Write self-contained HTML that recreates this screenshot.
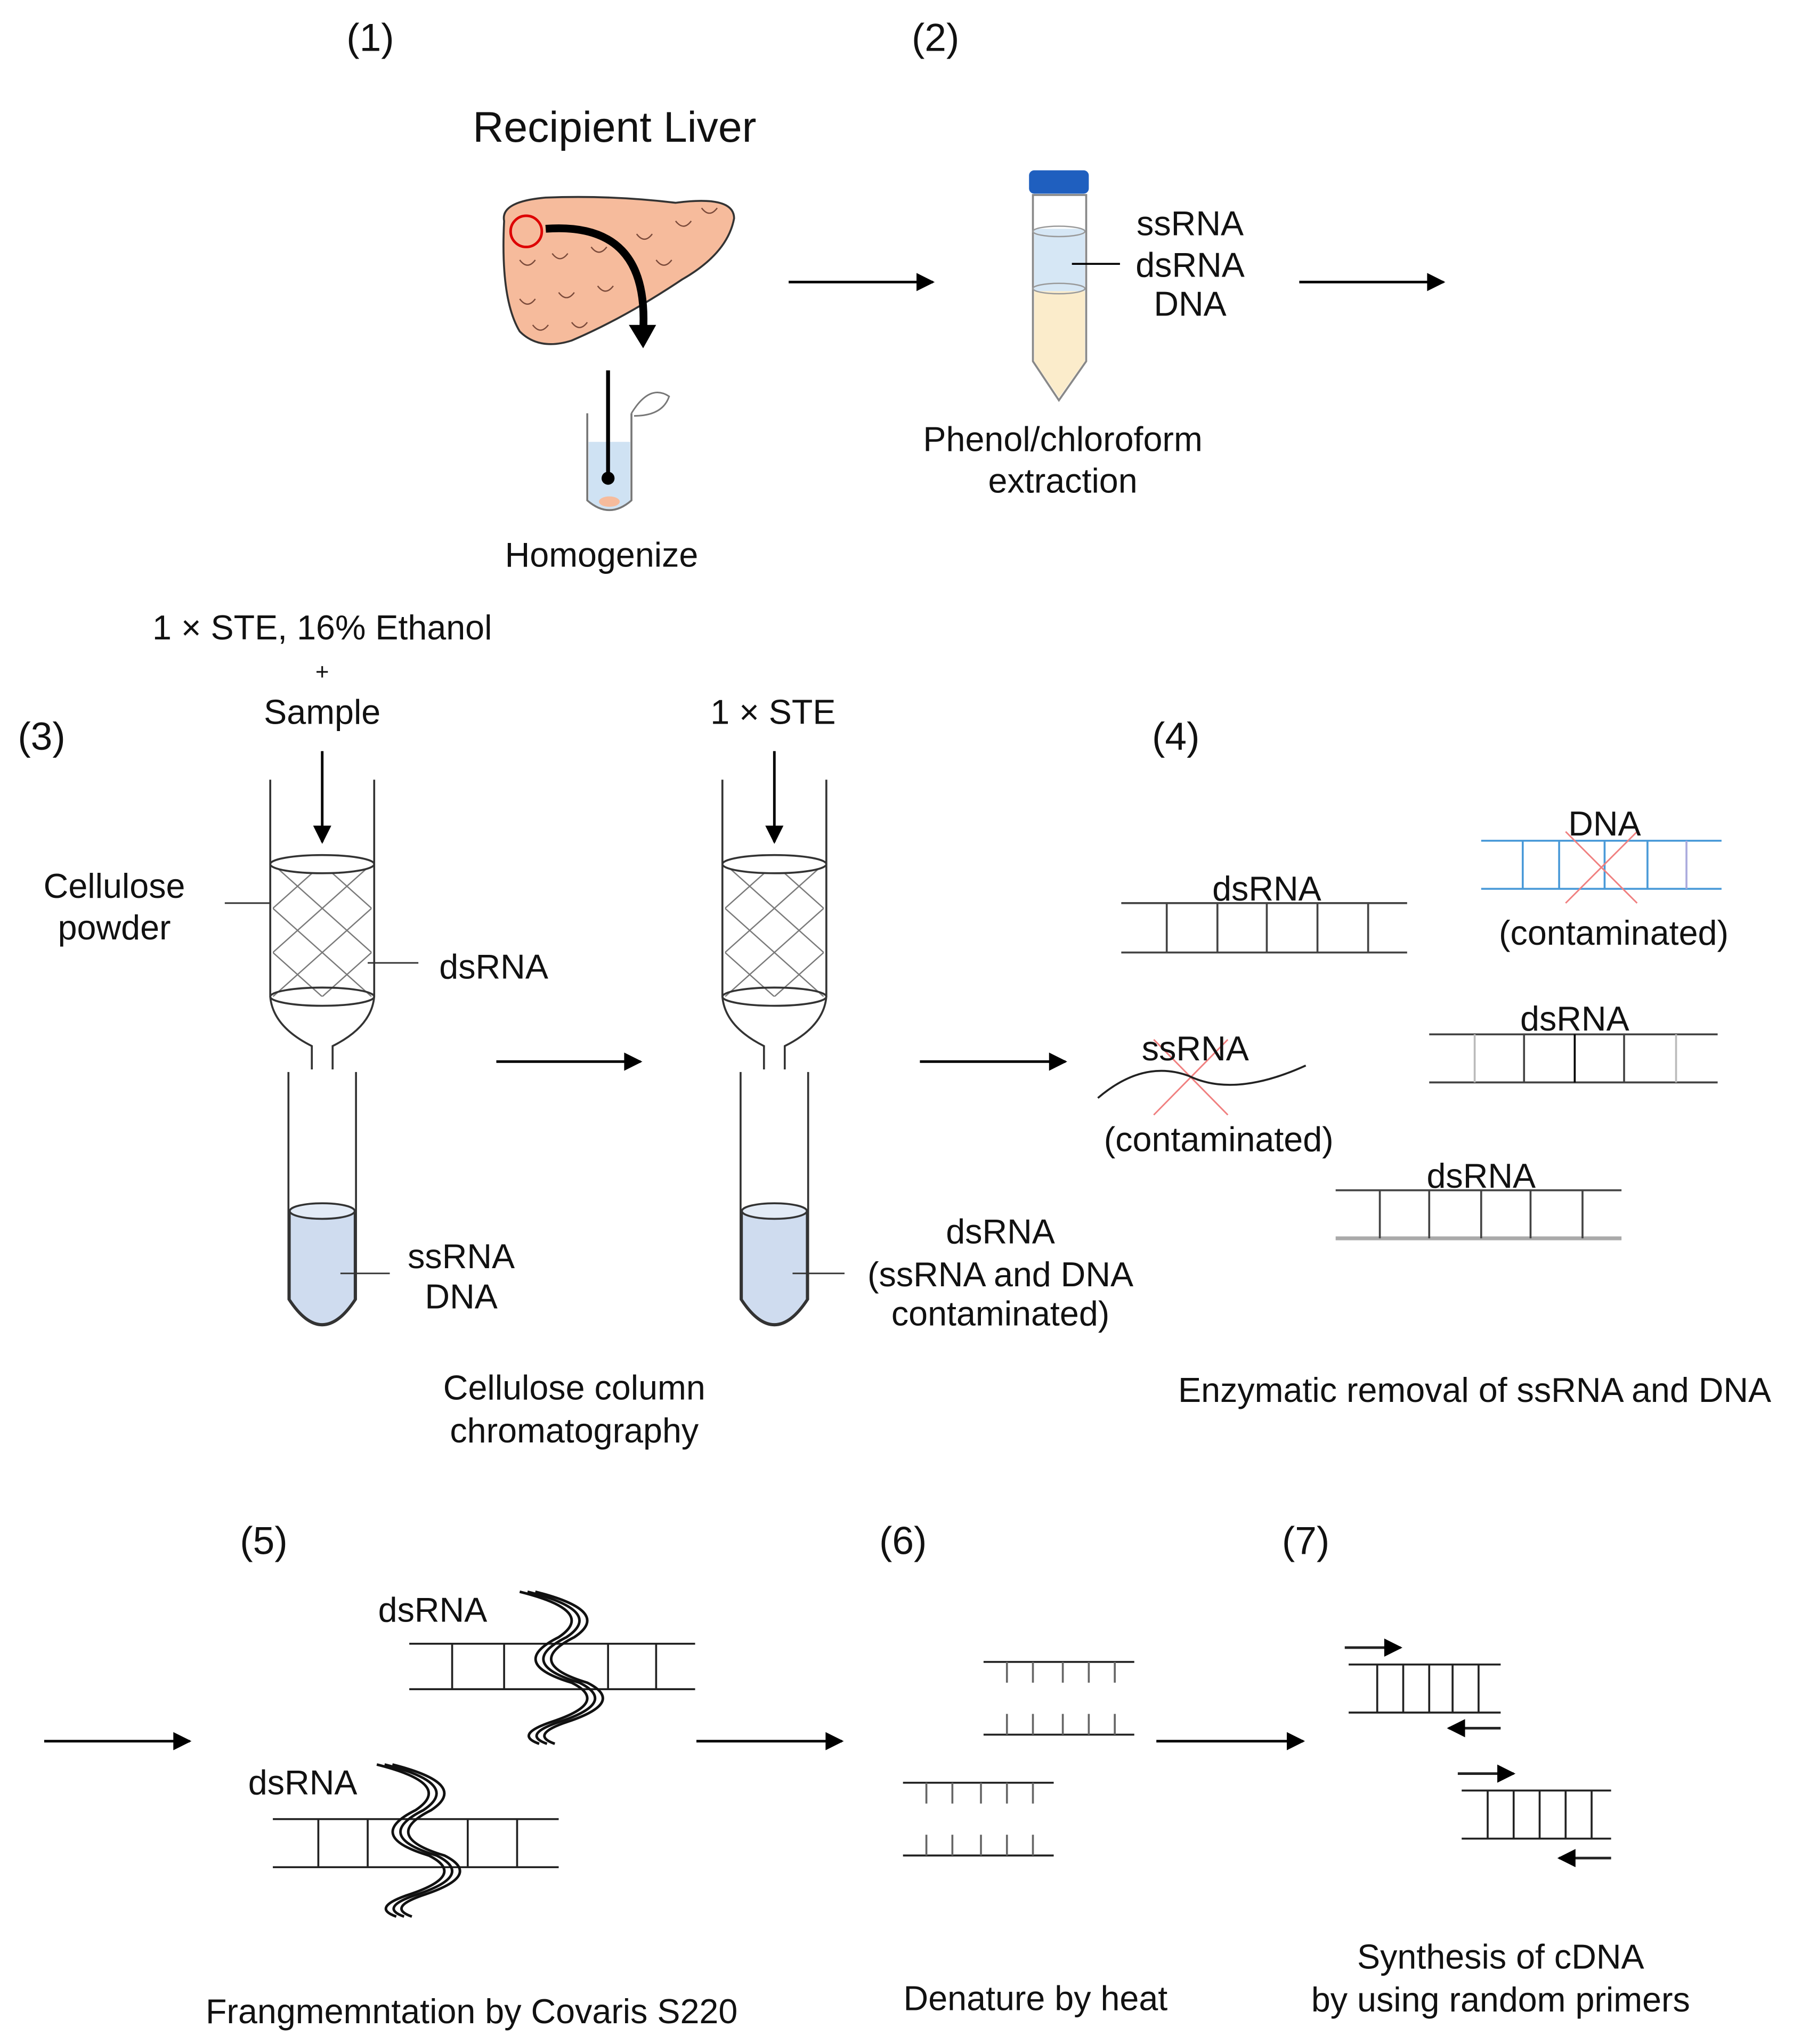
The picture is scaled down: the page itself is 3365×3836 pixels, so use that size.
<!DOCTYPE html>
<html><head><meta charset="utf-8"><style>html,body{margin:0;padding:0;background:#fff}svg{display:block}text{font-family:"Liberation Sans",sans-serif;font-size:26.5px;fill:#111;text-anchor:middle}</style></head><body>
<svg width="3365" height="3836" viewBox="0 0 1380 1573" xmlns="http://www.w3.org/2000/svg">
<defs>
<marker id="a2" viewBox="0 0 10 10" markerWidth="16" markerHeight="14" refX="9" refY="5" orient="auto" markerUnits="userSpaceOnUse"><path d="M0,0 L10,5 L0,10 z" fill="#000"/></marker>
<pattern id="hatch" x="210" y="665" width="38" height="34" patternUnits="userSpaceOnUse"><path d="M0,0 L38,34 M38,0 L0,34" stroke="#777" stroke-width="1"/></pattern>
</defs>
<g stroke="#000" stroke-width="2" fill="none">
<line x1="607" y1="217" x2="718" y2="217" marker-end="url(#a2)"/>
<line x1="1000" y1="217" x2="1111" y2="217" marker-end="url(#a2)"/>
<line x1="382" y1="817" x2="493" y2="817" marker-end="url(#a2)"/>
<line x1="708" y1="817" x2="820" y2="817" marker-end="url(#a2)"/>
<line x1="34" y1="1340" x2="146" y2="1340" marker-end="url(#a2)"/>
<line x1="536" y1="1340" x2="648" y2="1340" marker-end="url(#a2)"/>
<line x1="890" y1="1340" x2="1003" y2="1340" marker-end="url(#a2)"/>
</g>
<text x="285" y="39" style="font-size:30px">(1)</text>
<text x="720" y="39" style="font-size:30px">(2)</text>
<text x="473" y="109" style="font-size:33px">Recipient Liver</text>
<path d="M388,170 Q385,155 420,152 Q470,150 520,156 Q565,150 565,168 Q560,195 525,215 Q480,245 440,262 Q415,270 400,255 Q385,230 388,170 z" fill="#f6bb9c" stroke="#333" stroke-width="1.5"/>
<g stroke="#7a4a3a" stroke-width="1" fill="none">
<path d="M400,200 q6,8 12,0 M425,195 q6,8 12,0 M455,190 q6,8 12,0 M490,180 q6,8 12,0 M520,170 q6,8 12,0 M400,230 q6,8 12,0 M430,225 q6,8 12,0 M460,220 q6,8 12,0 M410,250 q6,8 12,0 M440,248 q6,8 12,0 M540,160 q6,8 12,0 M505,200 q6,8 12,0"/>
</g>
<circle cx="405" cy="178" r="12" fill="none" stroke="#d00" stroke-width="2"/>
<path d="M420,176 Q500,170 495,255" stroke="#000" stroke-width="6" fill="none"/>
<path d="M484,250 L495,268 L505,250 z" fill="#000"/>
<path d="M452,318 L452,385 Q469,400 486,385 L486,318" fill="none" stroke="#777" stroke-width="1.5"/>
<path d="M453,340 L453,385 Q469,398 485,385 L485,340 z" fill="#cfe2f3"/>
<path d="M486,318 Q500,295 515,305 Q510,320 488,320" fill="none" stroke="#777" stroke-width="1.2"/>
<line x1="468" y1="285" x2="468" y2="368" stroke="#000" stroke-width="3"/>
<circle cx="468" cy="368" r="5" fill="#000"/>
<ellipse cx="469" cy="386" rx="8" ry="4" fill="#f6bb9c"/>
<text x="463" y="436">Homogenize</text>
<path d="M795,150 L795,278 L815,308 L836,278 L836,150 z" fill="#fff" stroke="#888" stroke-width="1.5"/>
<path d="M796,224 L796,278 L815,306 L835,278 L835,224 z" fill="#fbeccb"/>
<rect x="796" y="176" width="39" height="48" fill="#d6e7f5"/>
<ellipse cx="815" cy="178" rx="20" ry="4" fill="none" stroke="#999"/>
<ellipse cx="815" cy="222" rx="20" ry="4" fill="none" stroke="#999"/>
<rect x="792" y="131" width="46" height="18" rx="4" fill="#1f5fbf"/>
<line x1="825" y1="203" x2="862" y2="203" stroke="#000" stroke-width="1.5"/>
<text x="916" y="181">ssRNA</text><text x="916" y="213">dsRNA</text><text x="916" y="243">DNA</text>
<text x="818" y="347">Phenol/chloroform</text><text x="818" y="379">extraction</text>
<text x="248" y="492">1 × STE, 16% Ethanol</text><text x="248" y="523" style="font-size:18px">+</text><text x="248" y="557">Sample</text>
<text x="32" y="577" style="font-size:30px">(3)</text>
<text x="595" y="557">1 × STE</text>
<text x="905" y="577" style="font-size:30px">(4)</text>
<g id="col" stroke="#333" stroke-width="1.5" fill="none">
<line x1="208" y1="600" x2="208" y2="767"/><line x1="288" y1="600" x2="288" y2="767"/>
<rect x="210" y="665" width="76" height="102" fill="url(#hatch)" stroke="none"/>
<ellipse cx="248" cy="665" rx="40" ry="7" fill="#fff"/><ellipse cx="248" cy="767" rx="40" ry="7"/>
<path d="M208,767 Q210,790 240,805 L240,823 M288,767 Q286,790 256,805 L256,823"/>
<path d="M222,825 L222,1000 Q248,1040 274,1000 L274,825"/>
<path d="M223,932 L223,1000 Q248,1038 273,1000 L273,932 z" fill="#cfdcef"/>
<ellipse cx="248" cy="932" rx="25" ry="6" fill="#e3ebf6"/>
</g>
<use href="#col" transform="translate(348,0)"/>
<g stroke="#000" stroke-width="2"><line x1="248" y1="578" x2="248" y2="648" marker-end="url(#a2)"/><line x1="596" y1="578" x2="596" y2="648" marker-end="url(#a2)"/></g>
<g stroke="#333" stroke-width="1.2"><line x1="173" y1="695" x2="208" y2="695"/><line x1="283" y1="741" x2="322" y2="741"/><line x1="262" y1="980" x2="300" y2="980"/><line x1="610" y1="980" x2="650" y2="980"/></g>
<text x="88" y="691">Cellulose</text><text x="88" y="723">powder</text>
<text x="380" y="753">dsRNA</text>
<text x="355" y="976">ssRNA</text><text x="355" y="1007">DNA</text>
<text x="770" y="957">dsRNA</text><text x="770" y="990">(ssRNA and DNA</text><text x="770" y="1020">contaminated)</text>
<text x="442" y="1077">Cellulose column</text><text x="442" y="1110">chromatography</text>
<g stroke="#444" stroke-width="1.5">
<line x1="863" y1="695" x2="1083" y2="695"/><line x1="863" y1="733" x2="1083" y2="733"/>
<line x1="898" y1="695" x2="898" y2="733"/><line x1="937" y1="695" x2="937" y2="733"/><line x1="975" y1="695" x2="975" y2="733"/><line x1="1014" y1="695" x2="1014" y2="733"/><line x1="1053" y1="695" x2="1053" y2="733"/>
<line x1="1100" y1="796" x2="1322" y2="796"/><line x1="1100" y1="833" x2="1322" y2="833"/>
<line x1="1135" y1="796" x2="1135" y2="833" stroke="#bbb"/><line x1="1173" y1="796" x2="1173" y2="833"/><line x1="1212" y1="796" x2="1212" y2="833" stroke="#000"/><line x1="1250" y1="796" x2="1250" y2="833"/><line x1="1290" y1="796" x2="1290" y2="833" stroke="#bbb"/>
<line x1="1028" y1="916" x2="1248" y2="916"/><line x1="1028" y1="953" x2="1248" y2="953" stroke="#aaa" stroke-width="3"/>
<line x1="1062" y1="916" x2="1062" y2="953"/><line x1="1100" y1="916" x2="1100" y2="953"/><line x1="1140" y1="916" x2="1140" y2="953"/><line x1="1178" y1="916" x2="1178" y2="953"/><line x1="1218" y1="916" x2="1218" y2="953"/>
</g>
<g stroke="#4a9ad8" stroke-width="1.5">
<line x1="1140" y1="647" x2="1325" y2="647"/><line x1="1140" y1="684" x2="1325" y2="684"/>
<line x1="1172" y1="647" x2="1172" y2="684"/><line x1="1200" y1="647" x2="1200" y2="684"/><line x1="1235" y1="647" x2="1235" y2="684"/><line x1="1268" y1="647" x2="1268" y2="684"/><line x1="1298" y1="647" x2="1298" y2="684" stroke="#aad"/>
</g>
<g stroke="#f08080" stroke-width="1.2"><line x1="1205" y1="640" x2="1260" y2="695"/><line x1="1260" y1="640" x2="1205" y2="695"/>
<line x1="888" y1="800" x2="945" y2="858"/><line x1="945" y1="800" x2="888" y2="858"/></g>
<path d="M845,845 Q880,815 915,828 Q950,845 1005,820" fill="none" stroke="#222" stroke-width="1.5"/>
<text x="975" y="693">dsRNA</text><text x="1235" y="643">DNA</text><text x="1242" y="727">(contaminated)</text>
<text x="920" y="816">ssRNA</text><text x="938" y="886">(contaminated)</text>
<text x="1212" y="793">dsRNA</text><text x="1140" y="914">dsRNA</text>
<text x="1135" y="1079">Enzymatic removal of ssRNA and DNA</text>
<text x="203" y="1196" style="font-size:30px">(5)</text><text x="695" y="1196" style="font-size:30px">(6)</text><text x="1005" y="1196" style="font-size:30px">(7)</text>
<g stroke="#222" stroke-width="1.5">
<line x1="315" y1="1265" x2="535" y2="1265"/><line x1="315" y1="1300" x2="535" y2="1300"/>
<line x1="348" y1="1265" x2="348" y2="1300"/><line x1="388" y1="1265" x2="388" y2="1300"/><line x1="468" y1="1265" x2="468" y2="1300"/><line x1="505" y1="1265" x2="505" y2="1300"/>
<line x1="210" y1="1400" x2="430" y2="1400"/><line x1="210" y1="1437" x2="430" y2="1437"/>
<line x1="245" y1="1400" x2="245" y2="1437"/><line x1="283" y1="1400" x2="283" y2="1437"/><line x1="360" y1="1400" x2="360" y2="1437"/><line x1="398" y1="1400" x2="398" y2="1437"/>
</g>
<g fill="none" stroke="#111" stroke-width="2">
<path id="wv" d="M400,1225 Q460,1240 430,1260 Q390,1280 440,1295 Q470,1310 425,1325 Q395,1335 415,1342"/>
<use href="#wv" transform="translate(6,0)"/><use href="#wv" transform="translate(12,0)"/>
<use href="#wv" transform="translate(-110,133)"/><use href="#wv" transform="translate(-104,133)"/><use href="#wv" transform="translate(-98,133)"/>
</g>
<text x="333" y="1248">dsRNA</text><text x="233" y="1381">dsRNA</text>
<text x="363" y="1557">Frangmemntation  by Covaris S220</text>
<g stroke="#222" stroke-width="1.5">
<line x1="757" y1="1279" x2="873" y2="1279"/><line x1="757" y1="1335" x2="873" y2="1335"/>
<path d="M775,1279v16M795,1279v16M818,1279v16M838,1279v16M858,1279v16M775,1335v-16M795,1335v-16M818,1335v-16M838,1335v-16M858,1335v-16" stroke="#666"/>
<line x1="695" y1="1372" x2="811" y2="1372"/><line x1="695" y1="1428" x2="811" y2="1428"/>
<path d="M713,1372v16M733,1372v16M755,1372v16M775,1372v16M795,1372v16M713,1428v-16M733,1428v-16M755,1428v-16M775,1428v-16M795,1428v-16" stroke="#666"/>
</g>
<text x="797" y="1547">Denature by heat</text>
<g stroke="#222" stroke-width="1.5">
<line x1="1038" y1="1281" x2="1155" y2="1281"/><line x1="1038" y1="1318" x2="1155" y2="1318"/>
<path d="M1060,1281v37M1080,1281v37M1100,1281v37M1118,1281v37M1138,1281v37"/>
<line x1="1125" y1="1378" x2="1240" y2="1378"/><line x1="1125" y1="1415" x2="1240" y2="1415"/>
<path d="M1145,1378v37M1165,1378v37M1185,1378v37M1205,1378v37M1225,1378v37"/>
<line x1="1035" y1="1268" x2="1078" y2="1268" marker-end="url(#a2)" stroke-width="2"/>
<line x1="1155" y1="1330" x2="1115" y2="1330" marker-end="url(#a2)" stroke-width="2"/>
<line x1="1122" y1="1365" x2="1165" y2="1365" marker-end="url(#a2)" stroke-width="2"/>
<line x1="1240" y1="1430" x2="1200" y2="1430" marker-end="url(#a2)" stroke-width="2"/>
</g>
<text x="1155" y="1515">Synthesis of cDNA</text><text x="1155" y="1548">by using random primers</text>
</svg>
</body></html>
